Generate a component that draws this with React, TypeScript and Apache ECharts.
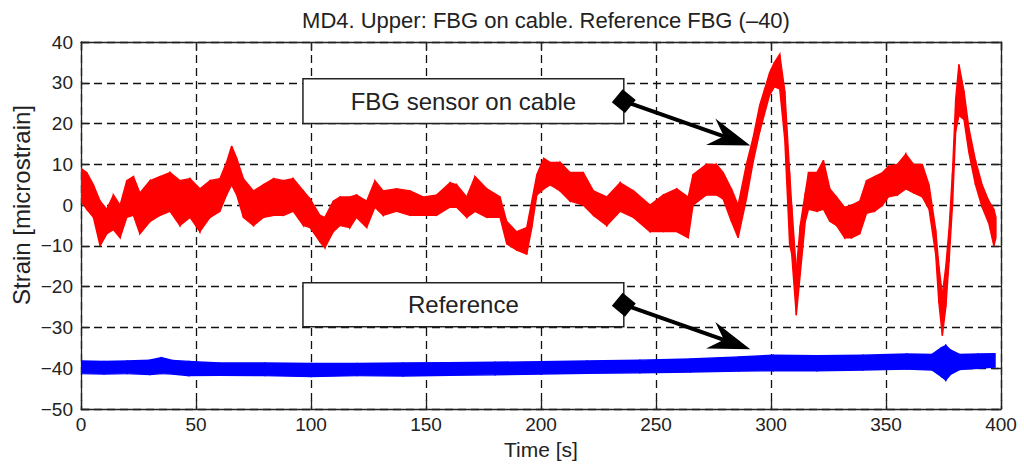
import React, { useEffect, useRef } from "react";
import * as echarts from "echarts";

// Axis ticks
const timeTicks = [0, 50, 100, 150, 200, 250, 300, 350, 400];
const strainTicks = [-50, -40, -30, -20, -10, 0, 10, 20, 30, 40];

// FBG sensor on cable: time [s], lower and upper envelope of the noisy trace [microstrain]
const cableTime = [
  0, 2.5, 5.4, 8.3, 11.2, 14.1, 17, 19.9, 22.8, 25.6, 30, 34.3, 38.7, 43, 47.4, 51.7, 56.1, 60.4,
  63.3, 65.5, 67.7, 70.6, 75, 79.3, 83.7, 88, 92.3, 96.7, 99.6, 103.9, 106, 109.7, 112.6, 116.9,
  119.8, 124.2, 127.8, 131.4, 137.2, 143, 148.8, 154.6, 160.4, 163.3, 167.7, 171.3, 176.4, 182.2,
  185.1, 189.4, 193.8, 196, 198.2, 201.2, 203.9, 206.9, 208.3, 212.6, 218.4, 222.8, 228.6, 234.4,
  240.2, 247.4, 253.2, 259, 264, 266.1, 271.9, 276.3, 279.2, 282.8, 285.7, 289.3, 292.2, 295.1,
  299.4, 301.5, 303.8, 306, 308.1, 309, 311, 312.7, 314.9, 316.3, 320, 322.8, 325.6, 328.5, 332,
  335, 338.6, 341.5, 345, 348.5, 351, 355, 358.6, 362, 365.8, 368.7, 371.6, 373, 374.5, 376,
  377.4, 378.9, 380.3, 381.7, 383.9, 386, 388.9, 391.8, 394.7, 396.9, 397.8,
];
const cableLow = [
  1, -1, -3, -10, -7, -6, -8, -3, -2.5, -7, -4, -2.5, -1.5, -5, -3, -6.5, -3, -1.5,
  2.5, 5, 2.5, -3, -5, -3, -2.5, -2.5, -1.5, -5, -5.5, -9, -10.5, -6.5, -5, -5.5,
  -3, -5.5, -0.5, -2.5, -1.5, -2.5, -2.5, -2.5, -0.5, -0.5, -3, -1.5, -3, -3,
  -9.5, -11, -12, -5.5, 2.5, 4, 5, 4, 3.5, 1, 0, -2.5, -5, -1.5,
  -3, -6.5, -6.5, -6.5, -8, 0, 2.5, 2.5, 1.5, -4, -8, 1.5, 10.5, 18,
  27, 29, 28.5, 16, -9.5, -12, -27, -17, -4, -1, -1.5, -1, -4, -5, -8,
  -8, -7, -2, -1.5, 0, 2, 2.5, 4, 3, 2, -1, -12, -24, -32, -25,
  -14, 0, 18, 22, 21, 13, 5, -0.5, -4.5, -10, -8,
];
const cableHigh = [
  9, 8, 5, 1, -1, 2.5, 0, 6, 7, 3, 6, 7, 8, 6, 6.5, 4, 6, 6.5,
  10.5, 14.5, 11.5, 6.5, 3.5, 5, 6.5, 6, 6.5, 3.5, 1.5, -2.5, -3, 1, 2, 2,
  2.5, 1, 6, 3.5, 4, 3.5, 2, 2.5, 5.5, 5, 2, 7, 4, 2,
  -4, -6.5, -5.5, 1, 7.5, 11.5, 10.5, 10.5, 10.5, 8, 8, 3.5, 2, 5.5,
  3.5, 0, 2.5, 4, 2, 7.5, 10, 10, 8, 4, 0, 10, 16.5, 24.5,
  32.5, 35, 37, 28, 8, 0, -16, -5, 3, 8, 8, 11, 4, 2, -0.5,
  0, 1, 6, 7, 8, 9.5, 10, 12.5, 10, 10, 5, -6, -15, -22, -15,
  -6, 8, 26, 34.5, 28, 19, 11, 5, 1, -1, -3,
];

// Reference FBG (offset by -40): time [s], lower and upper envelope [microstrain]
const refTime = [
  0, 10, 20, 30, 35, 40, 47, 60, 80, 100, 120, 140, 160, 180, 200, 220, 243, 265, 286, 301, 320,
  340, 359, 370, 374, 376, 378, 382, 390, 397.4,
];
const refLow = [
  -41.3, -41.4, -41.3, -41.5, -41.3, -41.4, -41.8, -41.7, -41.8, -42.0, -41.8, -41.9, -41.7,
  -41.6, -41.4, -41.2, -41.1, -40.9, -40.7, -40.6, -40.6, -40.4, -40.2, -40.4, -42.0, -42.9,
  -41.5, -40.3, -40.0, -39.7,
];
const refHigh = [
  -38.2, -38.3, -38.2, -38.0, -37.4, -38.1, -38.3, -38.7, -38.7, -38.8, -38.8, -38.7, -38.6,
  -38.5, -38.4, -38.2, -38.0, -37.7, -37.2, -36.8, -36.9, -36.8, -36.5, -36.6, -35.0, -34.4,
  -35.5, -36.6, -36.5, -36.4,
];

const FONT = "Liberation Sans, Arial, Helvetica, sans-serif";
const INK = "#222";

const minusLabel = (v: number) => String(v).replace("-", "\u2212");

function bandSeries(name: string, t: number[], lo: number[], hi: number[], color: string) {
  const data = t.slice(0, -1).map((_, i) => [t[i], lo[i], hi[i], t[i + 1], lo[i + 1], hi[i + 1]]);
  return {
    type: "custom",
    name,
    data,
    silent: true,
    clip: true,
    encode: { x: [0, 3], y: [1, 2, 4, 5] },
    renderItem: (_params: any, api: any) => {
      const p1 = api.coord([api.value(0), api.value(1)]);
      const p2 = api.coord([api.value(0), api.value(2)]);
      const p3 = api.coord([api.value(3), api.value(5)]);
      const p4 = api.coord([api.value(3), api.value(4)]);
      return {
        type: "polygon",
        shape: { points: [p1, p2, p3, p4] },
        style: { fill: color, stroke: color, lineWidth: 1.4 },
      };
    },
  };
}

// Call-out boxes: box spans [t0, t1] x [v0, v1], arrow points at (tipT, tipV)
const callouts = [
  { label: "FBG sensor on cable", t0: 96.5, t1: 236, v0: 20, v1: 31, tipT: 291, tipV: 14.6 },
  { label: "Reference", t0: 96.5, t1: 236, v0: -29.8, v1: -19, tipT: 291, tipV: -35.3 },
];

function calloutGraphics(chart: echarts.ECharts) {
  const px = (t: number, v: number) =>
    chart.convertToPixel({ xAxisIndex: 0, yAxisIndex: 0 }, [t, v]) as number[];
  const out: any[] = [];
  callouts.forEach((c) => {
    const a = px(c.t0, c.v1);
    const b = px(c.t1, c.v0);
    out.push({
      type: "rect",
      shape: { x: a[0], y: a[1], width: b[0] - a[0], height: b[1] - a[1] },
      style: { fill: "#fff", stroke: INK, lineWidth: 1.5 },
      z: 10,
    });
    out.push({
      type: "text",
      x: (a[0] + b[0]) / 2,
      y: (a[1] + b[1]) / 2,
      style: {
        text: c.label,
        fontSize: 24,
        fontFamily: FONT,
        fill: INK,
        align: "center",
        verticalAlign: "middle",
      },
      z: 11,
    });
    const tail = [b[0], (a[1] + b[1]) / 2];
    const tip = px(c.tipT, c.tipV);
    const dx = tip[0] - tail[0];
    const dy = tip[1] - tail[1];
    const len = Math.hypot(dx, dy);
    const ux = dx / len;
    const uy = dy / len;
    const nx = -uy;
    const ny = ux;
    const L = 42;
    const W = 14;
    const notch = 14;
    out.push({
      type: "line",
      shape: { x1: tail[0], y1: tail[1], x2: tip[0] - ux * (L - notch), y2: tip[1] - uy * (L - notch) },
      style: { stroke: "#000", lineWidth: 4 },
      z: 12,
    });
    out.push({
      type: "polygon",
      shape: {
        points: [
          [tip[0], tip[1]],
          [tip[0] - ux * L + nx * W, tip[1] - uy * L + ny * W],
          [tip[0] - ux * (L - notch), tip[1] - uy * (L - notch)],
          [tip[0] - ux * L - nx * W, tip[1] - uy * L - ny * W],
        ],
      },
      style: { fill: "#000" },
      z: 12,
    });
    out.push({
      type: "rect",
      x: tail[0],
      y: tail[1],
      rotation: -Math.atan2(dy, dx) - 0.35,
      shape: { x: -8.5, y: -8.5, width: 17, height: 17 },
      style: { fill: "#000" },
      z: 13,
    });
  });
  return out;
}

export default function App() {
  const ref = useRef<HTMLDivElement>(null);

  useEffect(() => {
    if (!ref.current) return;
    const chart = echarts.init(ref.current, undefined, { renderer: "svg" });

    const axisLine = { show: true, onZero: false, lineStyle: { color: INK, width: 1.3 } };
    const tick = { show: true, inside: true, length: 9, lineStyle: { color: INK, width: 1.3 } };
    const label = { fontSize: 19, color: INK, fontFamily: FONT };
    const grid = { show: true, lineStyle: { color: "#111", width: 1.3, type: [8, 5] } };

    chart.setOption({
      animation: false,
      backgroundColor: "#fff",
      title: {
        text: "MD4. Upper: FBG on cable. Reference FBG (\u201340)",
        left: 541,
        top: 4,
        textAlign: "center",
        textStyle: { fontSize: 22, fontWeight: "normal", color: INK, fontFamily: FONT },
      },
      grid: { left: 81, right: 23, top: 42, bottom: 52, show: false },
      xAxis: [
        {
          type: "value",
          min: timeTicks[0],
          max: timeTicks[timeTicks.length - 1],
          interval: timeTicks[1] - timeTicks[0],
          axisLine,
          axisTick: tick,
          axisLabel: { ...label, margin: 6 },
          splitLine: grid,
          name: "Time [s]",
          nameLocation: "middle",
          nameGap: 29,
          nameTextStyle: { fontSize: 21, color: INK, fontFamily: FONT },
        },
        {
          type: "value",
          position: "top",
          min: timeTicks[0],
          max: timeTicks[timeTicks.length - 1],
          interval: timeTicks[1] - timeTicks[0],
          axisLine,
          axisTick: tick,
          axisLabel: { show: false },
          splitLine: { show: false },
        },
      ],
      yAxis: [
        {
          type: "value",
          min: strainTicks[0],
          max: strainTicks[strainTicks.length - 1],
          interval: strainTicks[1] - strainTicks[0],
          axisLine,
          axisTick: tick,
          axisLabel: { ...label, margin: 8, formatter: minusLabel },
          splitLine: grid,
        },
        {
          type: "value",
          position: "right",
          min: strainTicks[0],
          max: strainTicks[strainTicks.length - 1],
          interval: strainTicks[1] - strainTicks[0],
          axisLine,
          axisTick: tick,
          axisLabel: { show: false },
          splitLine: { show: false },
        },
      ],
      series: [
        bandSeries("FBG sensor on cable", cableTime, cableLow, cableHigh, "#ff0000"),
        bandSeries("Reference", refTime, refLow, refHigh, "#0000ff"),
      ],
    });

    chart.setOption({
      graphic: [
        {
          type: "text",
          x: 21,
          y: 205,
          rotation: Math.PI / 2,
          style: {
            text: "Strain [microstrain]",
            fontSize: 24,
            fontFamily: FONT,
            fill: INK,
            align: "center",
            verticalAlign: "middle",
          },
        },
        ...calloutGraphics(chart),
      ],
    });

    return () => chart.dispose();
  }, []);

  return (
    <div
      ref={ref}
      style={{ position: "fixed", left: 0, top: 0, width: 1024, height: 465, background: "#fff" }}
    />
  );
}
